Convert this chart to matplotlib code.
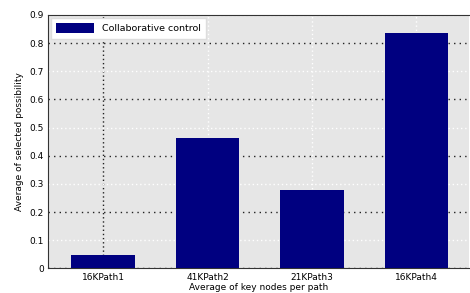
import numpy as np
import matplotlib.pyplot as plt

categories = ["16KPath1", "41KPath2", "21KPath3", "16KPath4"]
values = [0.047, 0.462, 0.278, 0.837]
series_name = "Collaborative control"
yticks = [0, 0.1, 0.2, 0.3, 0.4, 0.5, 0.6, 0.7, 0.8, 0.9]

fig = plt.figure(figsize=(4.7, 2.93), dpi=100)
ax = fig.add_axes([0.102, 0.084, 0.895, 0.865])
ax.set_facecolor("#e6e6e6")

x = np.arange(1, len(categories) + 1)
ax.bar(x, values, width=0.61, color="#000080", label=series_name, zorder=3)

ax.set_xlim(0.47, 4.5)
ax.set_ylim(0, 0.9)
ax.set_xticks(x)
ax.set_xticklabels(categories, fontsize=6.5)
ax.set_yticks(yticks)
ax.set_yticklabels(["0"] + ["%.1f" % v for v in yticks[1:]], fontsize=6.5)
ax.tick_params(length=0, pad=3)

ax.grid(True, zorder=1)
for i, gl in enumerate(ax.get_ygridlines()):
    if i % 2 == 0:
        gl.set(color="#222222", linestyle=(0, (1, 3)), linewidth=1.0)
    else:
        gl.set(color="#ffffff", linestyle=(0, (1, 2)), linewidth=1.0)
for i, gl in enumerate(ax.get_xgridlines()):
    if i == 0:
        gl.set(color="#222222", linestyle=(0, (1, 2)), linewidth=1.0)
    else:
        gl.set(color="#ffffff", linestyle=(0, (1, 2)), linewidth=1.0)

for s in ["left", "bottom", "top"]:
    ax.spines[s].set_color("#333333")
ax.spines["right"].set_visible(False)

ax.set_xlabel("Average of key nodes per path", fontsize=6.5, labelpad=1)
ax.set_ylabel("Average of selected possibility", fontsize=6.5, labelpad=4)

leg = ax.legend(loc="upper left", fontsize=6.8, fancybox=False, framealpha=1,
                handlelength=4, handleheight=1.1, borderpad=0.6,
                borderaxespad=0.3)
leg.get_frame().set_edgecolor("#dddddd")

fig.savefig("out.png", dpi=100)
